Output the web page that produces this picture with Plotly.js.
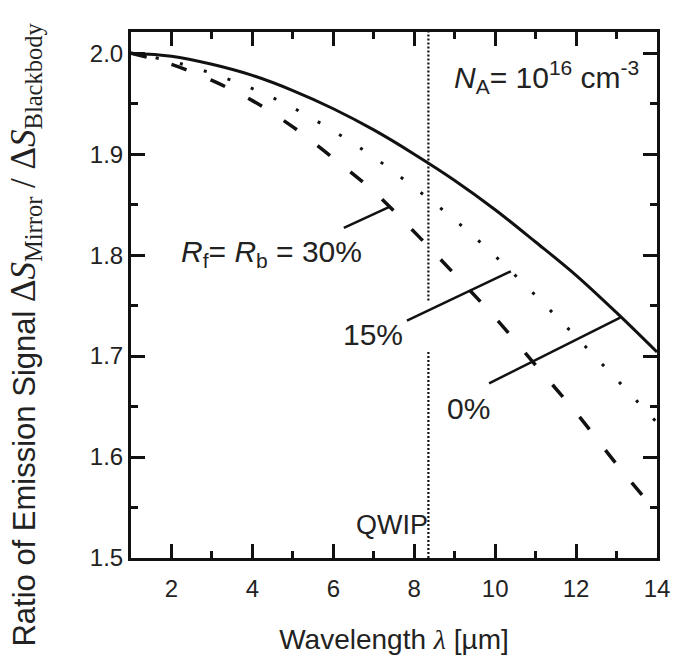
<!DOCTYPE html>
<html>
<head>
<meta charset="utf-8">
<script src="https://cdn.plot.ly/plotly-3.0.1.min.js"></script>
<style>html,body{margin:0;padding:0;background:#fff;}#chart{width:673px;height:664px;}</style>
</head>
<body>
<div id="chart"></div>
<script>
// Wavelength (µm)
const wavelength = [1, 2, 3, 4, 5, 6, 7, 8, 9, 10, 11, 12, 13, 14];
// Ratio for Rf = Rb = 0% (solid)
const ratio0 = [2.000, 1.997, 1.989, 1.978, 1.963, 1.945, 1.924, 1.900, 1.874, 1.845, 1.813, 1.780, 1.743, 1.704];
// Ratio for Rf = Rb = 15% (dotted)
const ratio15 = [2.000, 1.992, 1.980, 1.965, 1.946, 1.923, 1.897, 1.867, 1.835, 1.799, 1.760, 1.719, 1.677, 1.634];
// Ratio for Rf = Rb = 30% (dashed)
const ratio30 = [2.000, 1.989, 1.973, 1.953, 1.927, 1.896, 1.863, 1.823, 1.781, 1.738, 1.691, 1.644, 1.593, 1.545];
// QWIP wavelength marker (broken where the 15% label line passes)
const qwipX = [8.35, 8.35, null, 8.35, 8.35];
const qwipY = [1.5, 1.704, null, 1.755, 2.021];
// Leader lines [x0, y0, x1, y1]
const leader30 = [6.26, 1.827, 7.40, 1.848];
const leader15 = [7.82, 1.735, 10.39, 1.784];
const leader0 = [9.85, 1.673, 13.09, 1.738];
// tick values
const xTicks = [2, 4, 6, 8, 10, 12, 14];
const yTicks = [1.5, 1.6, 1.7, 1.8, 1.9, 2.0];

const F = 'Liberation Sans, Arial, sans-serif';
const traces = [
  {x: qwipX, y: qwipY, mode: 'lines', line: {color: '#111', width: 2.2, dash: '2px,2px'}, hoverinfo: 'skip', connectgaps: false},
  {x: wavelength, y: ratio0, mode: 'lines', line: {color: '#111', width: 3, shape: 'spline'}},
  {x: wavelength, y: ratio15, mode: 'lines', line: {color: '#111', width: 3, shape: 'spline', dash: '3px,22px'}},
  {x: wavelength, y: ratio30, mode: 'lines', line: {color: '#111', width: 3.5, shape: 'spline', dash: '16px,26px'}}
];

function seg(a) {
  return {type: 'line', xref: 'x', yref: 'y', x0: a[0], y0: a[1], x1: a[2], y1: a[3], line: {color: '#111', width: 2.5}};
}

const axisCommon = {
  showline: true, linewidth: 3, linecolor: '#111', mirror: 'ticks',
  ticks: 'inside', ticklen: 14, tickwidth: 3, tickcolor: '#111',
  showgrid: false, zeroline: false,
  tickfont: {family: F, size: 24, color: '#222'}
};

const layout = {
  width: 673, height: 664,
  margin: {l: 131, r: 16, t: 32, b: 106},
  paper_bgcolor: '#fff', plot_bgcolor: '#fff',
  showlegend: false,
  xaxis: Object.assign({}, axisCommon, {
    range: [1, 14], tickvals: xTicks, ticklabelstandoff: 7,
    minor: {ticks: 'inside', ticklen: 7, tickwidth: 3, tickcolor: '#111', dtick: 1, tick0: 1},
    title: {text: 'Wavelength <span style="font-family:Liberation Serif, serif"><i>λ</i></span> [µm]', font: {family: F, size: 28, color: '#222'}, standoff: 29}
  }),
  yaxis: Object.assign({}, axisCommon, {
    range: [1.5, 2.021], tickvals: yTicks, tickformat: '.1f',
    minor: {ticks: 'inside', ticklen: 7, tickwidth: 3, tickcolor: '#111', dtick: 0.05, tick0: 1.5}
  }),
  shapes: [seg(leader30), seg(leader15), seg(leader0)],
  annotations: [
    {xref: 'paper', yref: 'paper', x: -0.245, y: 0.424, textangle: -90, showarrow: false,
     text: 'Ratio of Emission Signal <span style="font-family:Liberation Serif, serif;font-size:35px">Δ<i>S</i><sub>Mirror</sub> / Δ<i>S</i><sub>Blackbody</sub></span>',
     font: {family: F, size: 31, color: '#222'}},
    {xref: 'x', yref: 'y', x: 11.26, y: 1.976, showarrow: false,
     text: '<i>N</i><sub>A</sub>= 10<sup>16</sup> cm<sup>-3</sup>', font: {family: F, size: 30, color: '#222'}},
    {xref: 'x', yref: 'y', x: 4.46, y: 1.802, showarrow: false,
     text: '<i>R</i><sub>f</sub>= <i>R</i><sub>b</sub> = 30%', font: {family: F, size: 30, color: '#222'}},
    {xref: 'x', yref: 'y', x: 6.98, y: 1.721, showarrow: false,
     text: '15%', font: {family: F, size: 30, color: '#222'}},
    {xref: 'x', yref: 'y', x: 9.33, y: 1.648, showarrow: false,
     text: '0%', font: {family: F, size: 30, color: '#222'}},
    {xref: 'x', yref: 'y', x: 7.45, y: 1.533, showarrow: false,
     text: 'QWIP', font: {family: F, size: 27, color: '#222'}}
  ]
};

Plotly.newPlot('chart', traces, layout, {staticPlot: true, displayModeBar: false});
</script>
</body>
</html>
